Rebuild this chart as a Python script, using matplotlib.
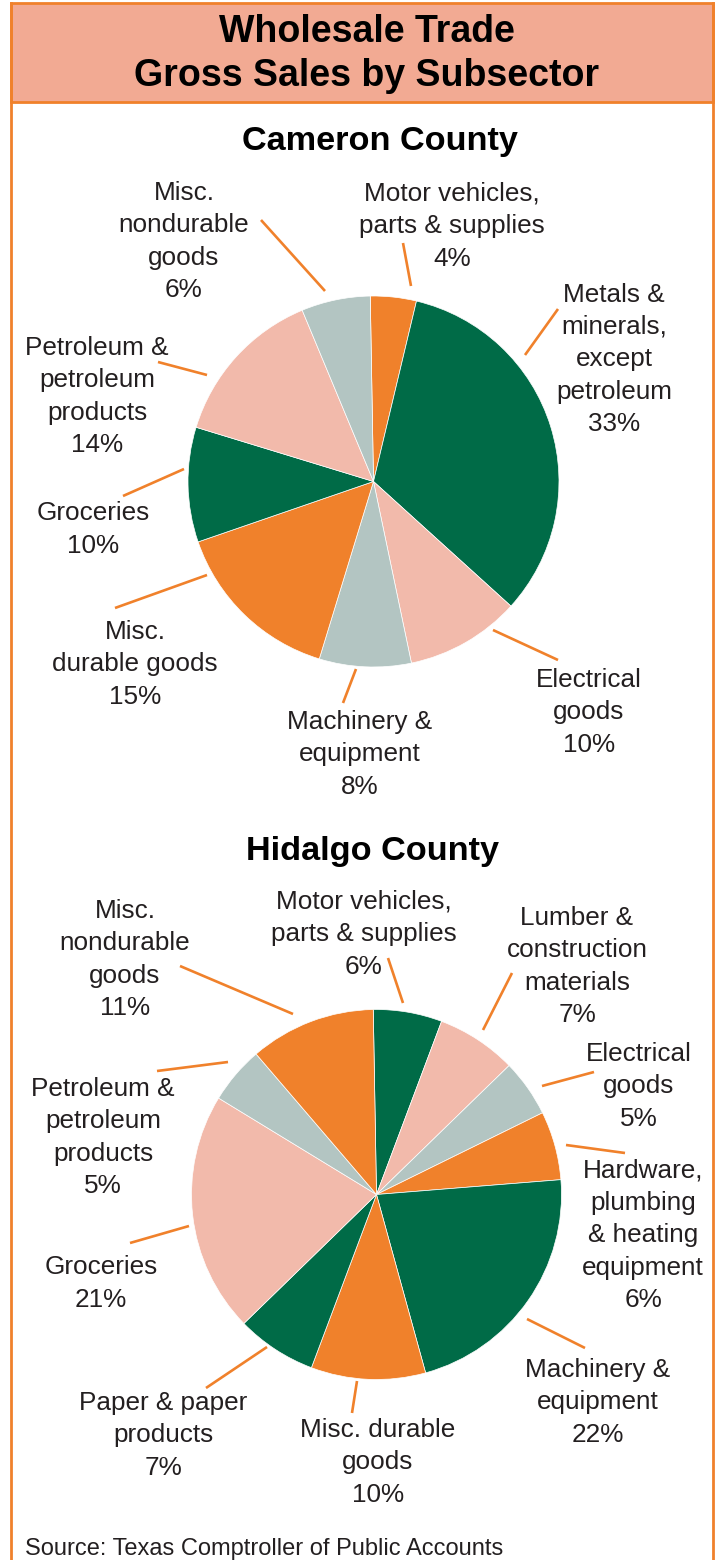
import matplotlib
matplotlib.use("Agg")
import matplotlib.pyplot as plt
from matplotlib.patches import Rectangle

W, H = 719, 1560

ORANGE = "#F0812B"
GREEN = "#006B47"
PINK = "#F2BAAB"
GRAY = "#B3C5C2"
HEADER = "#F2AA93"
TEXT = "#231F20"

# Cameron County, clockwise from 12 o'clock
cameron_labels = ["Motor vehicles,\nparts & supplies", "Metals &\nminerals,\nexcept\npetroleum",
                  "Electrical\ngoods", "Machinery &\nequipment", "Misc.\ndurable goods",
                  "Groceries", "Petroleum &\npetroleum\nproducts", "Misc.\nnondurable\ngoods"]
cameron_values = [4, 33, 10, 8, 15, 10, 14, 6]
cameron_colors = [ORANGE, GREEN, PINK, GRAY, ORANGE, GREEN, PINK, GRAY]

# Hidalgo County, clockwise from 12 o'clock
hidalgo_labels = ["Motor vehicles,\nparts & supplies", "Lumber &\nconstruction\nmaterials",
                  "Electrical\ngoods", "Hardware,\nplumbing\n& heating\nequipment",
                  "Machinery &\nequipment", "Misc. durable\ngoods", "Paper & paper\nproducts",
                  "Groceries", "Petroleum &\npetroleum\nproducts", "Misc.\nnondurable\ngoods"]
hidalgo_values = [6, 7, 5, 6, 22, 10, 7, 21, 5, 11]
hidalgo_colors = [GREEN, PINK, GRAY, ORANGE, GREEN, ORANGE, GREEN, PINK, GRAY, ORANGE]

# layout (pixels): label block centres and leader lines
cameron_text_pos = [(452, 224), (614, 357), (589, 710), (360, 752), (135, 662),
                    (93, 527), (97, 394), (184, 239)]
cameron_leaders = [((403, 243), (411, 286)), ((558, 309), (525, 355)), ((493, 630), (558, 660)),
                   ((356, 669), (343, 703)), ((207, 575), (115, 608)), ((184, 469), (123, 496)),
                   ((158, 362), (207, 375)), ((261, 220), (325, 291))]
hidalgo_text_pos = [(364, 932), (577, 964), (639, 1084), (643, 1233), (598, 1400),
                    (378, 1460), (163, 1433), (101, 1281), (103, 1135), (125, 957)]
hidalgo_leaders = [((388, 958), (403, 1003)), ((512, 973), (483, 1030)), ((594, 1072), (542, 1086)),
                   ((566, 1145), (625, 1153)), ((527, 1319), (585, 1348)), ((357, 1381), (352, 1413)),
                   ((267, 1347), (206, 1388)), ((189, 1226), (130, 1243)), ((228, 1062), (157, 1071)),
                   ((180, 966), (293, 1014))]

FONT = "Liberation Sans"
LABEL_PT = 18.8
PITCH = 32.4

fig = plt.figure(figsize=(W / 100, H / 100), dpi=100)
bg = fig.add_axes([0, 0, 1, 1])
bg.set_xlim(0, W)
bg.set_ylim(H, 0)
bg.axis("off")

# frame and header
bg.plot([11, 11], [3, H], color=ORANGE, lw=2)
bg.plot([713, 713], [3, H], color=ORANGE, lw=2)
bg.add_patch(Rectangle((11, 3), 702, 99, facecolor=HEADER, edgecolor=ORANGE, lw=2))


def lines_text(x, yc, text, size, weight="normal", pitch=PITCH):
    parts = text.split("\n")
    px = size * 100 / 72
    n = len(parts)
    for i, line in enumerate(parts):
        y = yc + (i - (n - 1) / 2) * pitch + 0.358 * px
        bg.text(x, y, line, ha="center", va="baseline", fontsize=size,
                family=FONT, fontweight=weight, color="black" if weight == "bold" else TEXT)


lines_text(367, 51, "Wholesale Trade\nGross Sales by Subsector", 27, "bold", pitch=44)
lines_text(380, 138, "Cameron County", 24.7, "bold")
lines_text(373, 848, "Hidalgo County", 24.7, "bold")


def draw_pie(cx, cy, r, values, colors, labels, text_pos, leaders):
    ax = fig.add_axes([(cx - r) / W, 1 - (cy + r) / H, 2 * r / W, 2 * r / H])
    ax.pie(values, colors=colors, startangle=91, counterclock=False, radius=1,
           wedgeprops=dict(edgecolor="white", linewidth=0.5))
    ax.set_xlim(-1, 1)
    ax.set_ylim(-1, 1)
    ax.set_aspect("equal", adjustable="box")
    ax.axis("off")
    for lab, v, (tx, ty), (p0, p1) in zip(labels, values, text_pos, leaders):
        lines_text(tx, ty, f"{lab}\n{v}%", LABEL_PT)
        bg.plot([p0[0], p1[0]], [p0[1], p1[1]], color=ORANGE, lw=1.9, solid_capstyle="butt")


draw_pie(373.5, 481.5, 185.5, cameron_values, cameron_colors, cameron_labels,
         cameron_text_pos, cameron_leaders)
draw_pie(376.5, 1194.5, 185, hidalgo_values, hidalgo_colors, hidalgo_labels,
         hidalgo_text_pos, hidalgo_leaders)

bg.text(25, 1555, "Source: Texas Comptroller of Public Accounts", ha="left", va="baseline",
        fontsize=17, family=FONT, color=TEXT)

fig.savefig("out.png", dpi=100)
